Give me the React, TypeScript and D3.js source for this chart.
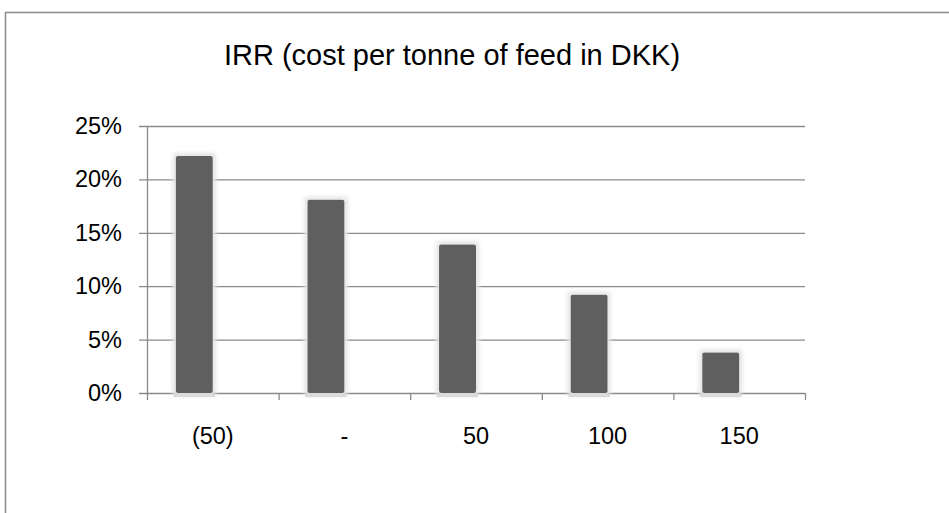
import React from "react";
import * as d3 from "d3";

const categories = ["(50)", "-", "50", "100", "150"];
const irrValues = [0.222, 0.181, 0.139, 0.092, 0.038];
const yTicks = [0, 0.05, 0.1, 0.15, 0.2, 0.25];
const titleText = "IRR (cost per tonne of feed in DKK)";

export default function App() {
  const W = 949, H = 513;
  const left = 147, right = 805, top = 126, bottom = 393;
  const x = d3.scaleBand<string>().domain(categories).range([left, right]).paddingInner(0).paddingOuter(0);
  const y = d3.scaleLinear().domain([0, 0.25]).range([bottom, top]);
  // clustered layout with empty second series
  const inner = d3.scaleBand<string>().domain(["s1", "s2"]).range([0, x.bandwidth()]).paddingOuter(0.78).paddingInner(0);
  const fmt = d3.format(".0%");
  const font = "'Liberation Sans', Arial, sans-serif";
  return (
    <svg width={W} height={H} style={{ position: "absolute", left: 0, top: 0 }}>
      <defs>
        <filter id="glow" x="-50%" y="-20%" width="200%" height="140%">
          <feMorphology in="SourceAlpha" operator="dilate" radius="3" result="d" />
          <feGaussianBlur in="d" stdDeviation="2" result="b" />
          <feFlood floodColor="#e4e4e4" />
          <feComposite in2="b" operator="in" result="g" />
          <feMerge>
            <feMergeNode in="g" />
            <feMergeNode in="SourceGraphic" />
          </feMerge>
        </filter>
      </defs>
      <rect x={0} y={0} width={W} height={H} fill="#fff" />
      <rect x={5.5} y={12.5} width={W} height={H} fill="#fff" stroke="#8c8c8c" strokeWidth={1.5} />
      <text x={452} y={65} textAnchor="middle" fontFamily={font} fontSize={29} fill="#000">{titleText}</text>
      {yTicks.map((t) => (
        <g key={t}>
          <line x1={left - 8} x2={right} y1={y(t) + 0.5} y2={y(t) + 0.5} stroke="#8a8a8a" strokeWidth={1.3} />
          <text x={122} y={y(t) + 8} textAnchor="end" fontFamily={font} fontSize={23.5} fill="#000">{fmt(t)}</text>
        </g>
      ))}
      <line x1={left + 0.5} x2={left + 0.5} y1={top} y2={bottom + 7} stroke="#8a8a8a" strokeWidth={1.3} />
      {categories.map((c) => (
        <line key={"t" + c} x1={(x(c) as number) + x.bandwidth() + 0.5} x2={(x(c) as number) + x.bandwidth() + 0.5} y1={bottom} y2={bottom + 7} stroke="#8a8a8a" strokeWidth={1.3} />
      ))}
      {categories.map((c, i) => {
        const bx = (x(c) as number) + (inner("s1") as number);
        const bw = inner.bandwidth();
        const by = y(irrValues[i]);
        return (
          <g key={"b" + c}>
            <rect x={bx - 2} y={bottom - 1} width={bw + 4} height={5} fill="#b0b0b0" opacity={0.6} />
            <rect x={bx} y={by} width={bw} height={bottom - by} rx={2} fill="#5f5f5f" filter="url(#glow)" />
          </g>
        );
      })}
      {categories.map((c) => (
        <text key={"l" + c} x={(x(c) as number) + x.bandwidth() / 2} y={444} textAnchor="middle" fontFamily={font} fontSize={23.5} fill="#000">{c}</text>
      ))}
    </svg>
  );
}
